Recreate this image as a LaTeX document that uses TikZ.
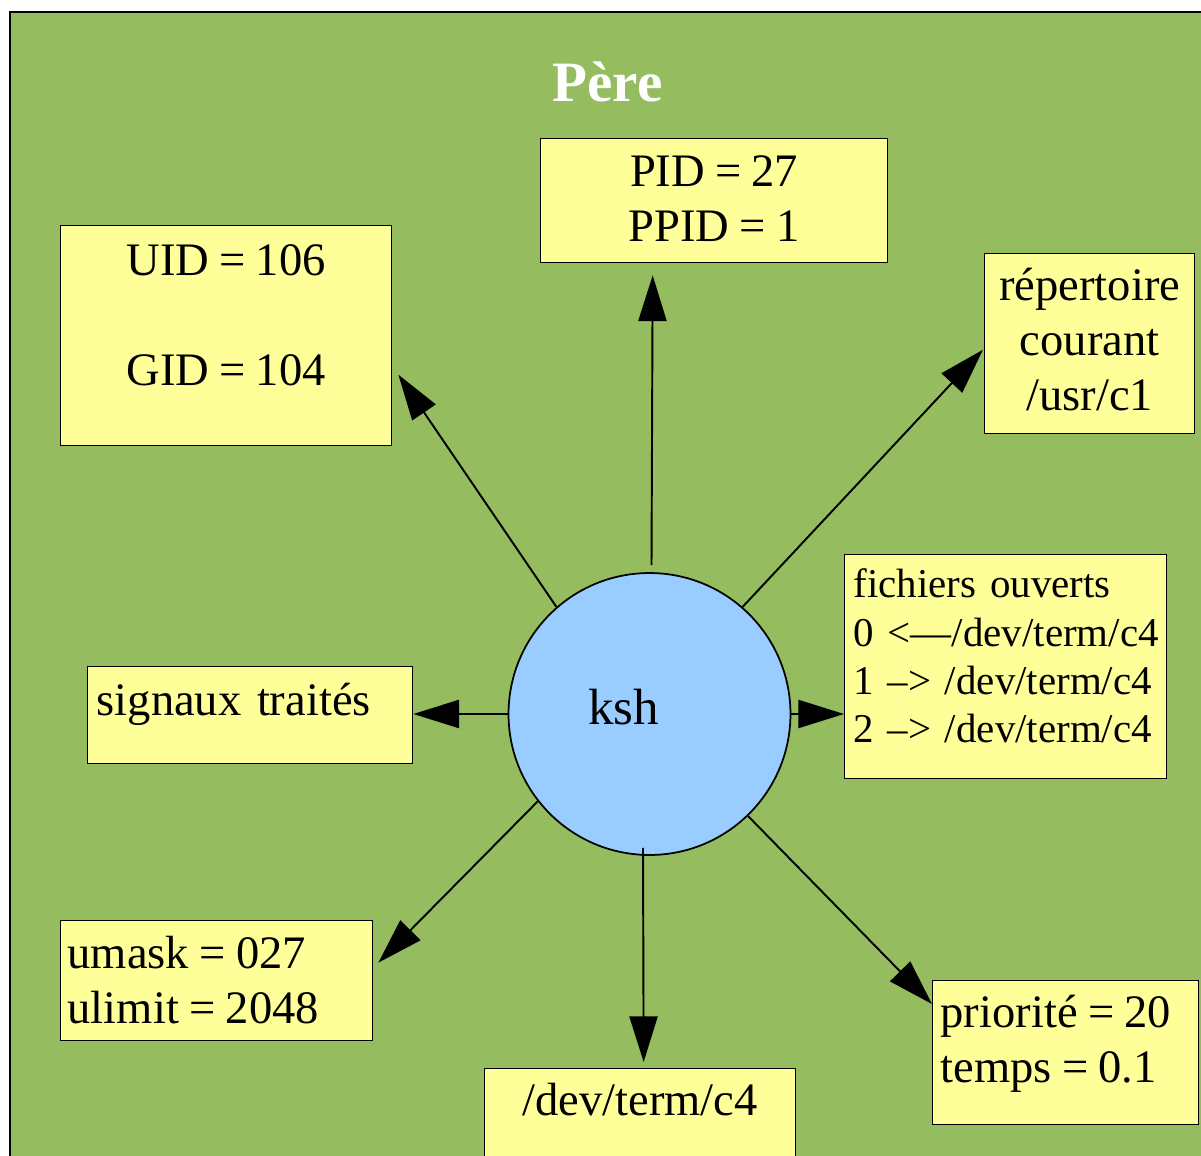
\documentclass[tikz,border=0pt]{standalone}
\usepackage{fontspec}
\setmainfont{Liberation Serif}
\usepackage{xcolor}
\usepackage{tikz}
\newcommand*{\egal}{\hspace{.22em}=\hspace{.22em}}
\usetikzlibrary{arrows.meta}
\definecolor{fond}{RGB}{149,189,96}
\definecolor{jaune}{RGB}{255,255,153}
\definecolor{bleu}{RGB}{153,204,255}

\begin{document}
\begin{tikzpicture}[x=0.02cm,y=-0.02cm,
  boite/.style={draw,fill=jaune,line width=0.8pt,anchor=north west,inner ysep=0pt,font=\fontsize{26.5}{31.3}\selectfont},
  fleche/.style={-{Triangle[length=26pt,width=16pt]},line width=1.1pt}]
\useasboundingbox[fill=white](0,0)rectangle(1201,1156);
\clip(0,0)rectangle(1201,1156);
\draw[fill=fond,line width=1.7pt](10,12)rectangle(1240,1200);

\node[text=white,font=\fontsize{32.5}{38}\selectfont\bfseries,anchor=base](titre)at(607.5,101){Père};

\node[draw,circle,fill=bleu,line width=1pt,minimum size=5.64cm,inner sep=0pt,text height=0.5cm,text depth=0.1cm,font=\fontsize{29}{34}\selectfont](ksh)at(649.5,714){ksh\kern29.6pt\mbox{}};

\node[boite,align=center,inner xsep=0.08cm,text width=6.78cm,text height=0.96cm,text depth=1.52cm](pid)at(540,138){PID\egal27\\PPID\egal1};
\node[boite,align=center,inner xsep=0.08cm,text width=6.46cm,text height=1.00cm,text depth=3.40cm](uid)at(60,225){UID\egal106\\[31.3pt]GID\egal104};
\node[boite,align=center,inner xsep=0.08cm,text width=4.04cm,text height=0.94cm,text depth=2.66cm](rep)at(984,253){répertoire\\courant\\/usr/c1};
\node[boite,align=left,inner xsep=0.18cm,text width=6.08cm,text height=0.86cm,text depth=3.62cm,font=\fontsize{23.3}{27.5}\selectfont](fich)at(844,554){\mbox{fichiers ouverts}\\\mbox{0 <—/dev/term/c4}\\\mbox{1 –> /dev/term/c4}\\\mbox{2 –> /dev/term/c4}};
\node[boite,align=left,inner xsep=0.18cm,text width=6.14cm,text height=0.98cm,text depth=0.96cm](sig)at(87,666){\mbox{signaux traités}};
\node[boite,align=left,inner xsep=0.14cm,text width=5.96cm,text height=0.96cm,text depth=1.44cm](umask)at(60,920){\mbox{umask\egal027}\\\mbox{ulimit\egal2048}};
\node[boite,align=center,inner xsep=0.08cm,text width=6.06cm,text height=0.94cm,text depth=2cm](dev)at(484,1068){/dev/term/c4};
\node[boite,align=left,inner xsep=0.16cm,text width=5.00cm,text height=0.94cm,text depth=1.94cm](prio)at(932,980){\mbox{priorité\egal20}\\\mbox{temps\egal0.1}};

\draw[fleche]([shift={(2,-7)}]ksh.north)--([shift={(-61.5,12)}]pid.south);
\draw[fleche](ksh.131)--([shift={(6,39)}]uid.east);
\draw[fleche](ksh.49)--([shift={(-1,6)}]rep.west);
\draw[fleche](ksh.west)--(sig.east|-ksh.west);
\draw[fleche](ksh.east)--(fich.west|-ksh.east);
\draw[fleche](ksh.218)--([shift={(5,-18)}]umask.east);
\draw[fleche]([shift={(-6.5,-8)}]ksh.south)--([shift={(3.5,-6)}]dev.north);
\draw[fleche](ksh.-46)--([shift={(0,24)}]prio.north west);

\end{tikzpicture}
\end{document}
